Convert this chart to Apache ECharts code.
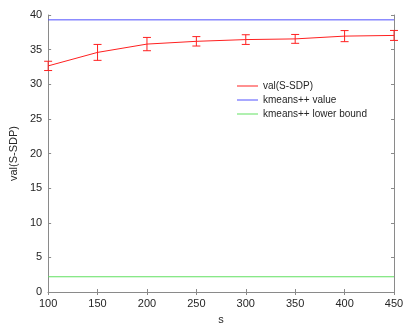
<!DOCTYPE html>
<html>
<head>
<meta charset="utf-8">
<script src="https://cdn.jsdelivr.net/npm/echarts@6/dist/echarts.min.js"></script>
<style>
  html, body { margin: 0; padding: 0; background: #fff; }
  #chart { width: 411px; height: 333px; }
</style>
</head>
<body>
<div id="chart"></div>
<script>
var sizes = [100, 150, 200, 250, 300, 350, 400, 450]
var sdpVal = [32.65, 34.6, 35.8, 36.2, 36.45, 36.55, 36.95, 37.05]
var sdpErr = [0.67, 1.15, 0.96, 0.68, 0.7, 0.64, 0.8, 0.72]
var kmeansVal = 39.3
var kmeansLower = 2.2

var axisGray = '#8a8a8a'
var textColor = '#262626'

var chart = echarts.init(document.getElementById('chart'))

var meanData = sizes.map(function (s, i) { return [s, sdpVal[i]] })
var errData = sizes.map(function (s, i) { return [s, sdpVal[i] - sdpErr[i], sdpVal[i] + sdpErr[i]] })

function renderErr (params, api) {
  var lo = api.coord([api.value(0), api.value(1)])
  var hi = api.coord([api.value(0), api.value(2)])
  var cap = 4
  var style = { stroke: '#ff2020', lineWidth: 1 }
  return {
    type: 'group',
    children: [
      { type: 'line', shape: { x1: lo[0], y1: lo[1], x2: hi[0], y2: hi[1] }, style: style },
      { type: 'line', shape: { x1: lo[0] - cap, y1: lo[1], x2: lo[0] + cap, y2: lo[1] }, style: style },
      { type: 'line', shape: { x1: hi[0] - cap, y1: hi[1], x2: hi[0] + cap, y2: hi[1] }, style: style }
    ]
  }
}

chart.setOption({
  animation: false,
  grid: { left: 42, right: 17, top: 15, bottom: 41 },
  legend: {
    orient: 'vertical',
    left: 232,
    top: 76,
    itemWidth: 21,
    itemHeight: 1,
    itemGap: 4,
    icon: 'rect',
    textStyle: { fontSize: 10, color: textColor, fontFamily: 'Liberation Sans' },
    data: ['val(S-SDP)', 'kmeans++ value', 'kmeans++ lower bound']
  },
  xAxis: [{
    type: 'value',
    min: 100,
    max: 450,
    interval: 50,
    name: 's',
    nameLocation: 'middle',
    nameGap: 22,
    nameTextStyle: { fontSize: 11, color: textColor, fontFamily: 'Liberation Sans' },
    axisLine: { lineStyle: { color: axisGray } },
    axisTick: { inside: true, length: 3, lineStyle: { color: axisGray } },
    axisLabel: { fontSize: 11, color: textColor, fontFamily: 'Liberation Sans', margin: 6 },
    splitLine: { show: false }
  }, {
    type: 'value',
    position: 'top',
    min: 100,
    max: 450,
    interval: 50,
    axisLine: { show: true, lineStyle: { color: axisGray } },
    axisTick: { show: true, inside: true, length: 3, lineStyle: { color: axisGray } },
    axisLabel: { show: false },
    splitLine: { show: false }
  }],
  yAxis: [{
    type: 'value',
    min: 0,
    max: 40,
    interval: 5,
    name: 'val(S-SDP)',
    nameLocation: 'middle',
    nameGap: 16,
    nameTextStyle: { fontSize: 11, color: textColor, fontFamily: 'Liberation Sans' },
    axisLine: { show: true, lineStyle: { color: axisGray } },
    axisTick: { show: true, inside: true, length: 3, lineStyle: { color: axisGray } },
    axisLabel: { fontSize: 11, color: textColor, fontFamily: 'Liberation Sans', margin: 6 },
    splitLine: { show: false }
  }, {
    type: 'value',
    position: 'right',
    min: 0,
    max: 40,
    interval: 5,
    axisLine: { show: true, lineStyle: { color: axisGray } },
    axisTick: { show: true, inside: true, length: 3, lineStyle: { color: axisGray } },
    axisLabel: { show: false },
    splitLine: { show: false }
  }],
  series: [
    {
      name: 'val(S-SDP)',
      type: 'line',
      data: meanData,
      symbol: 'none',
      color: '#ff2020',
      lineStyle: { width: 1, color: '#ff2020' }
    },
    {
      name: 'val(S-SDP)',
      type: 'custom',
      data: errData,
      renderItem: renderErr,
      color: '#ff2020',
      encode: { x: 0, y: [1, 2] },
      z: 3
    },
    {
      name: 'kmeans++ value',
      type: 'line',
      data: [[100, kmeansVal], [450, kmeansVal]],
      symbol: 'none',
      color: '#5050ff',
      lineStyle: { width: 1, color: '#5050ff' }
    },
    {
      name: 'kmeans++ lower bound',
      type: 'line',
      data: [[100, kmeansLower], [450, kmeansLower]],
      symbol: 'none',
      color: '#60e060',
      lineStyle: { width: 1, color: '#60e060' }
    }
  ]
})
</script>
</body>
</html>
